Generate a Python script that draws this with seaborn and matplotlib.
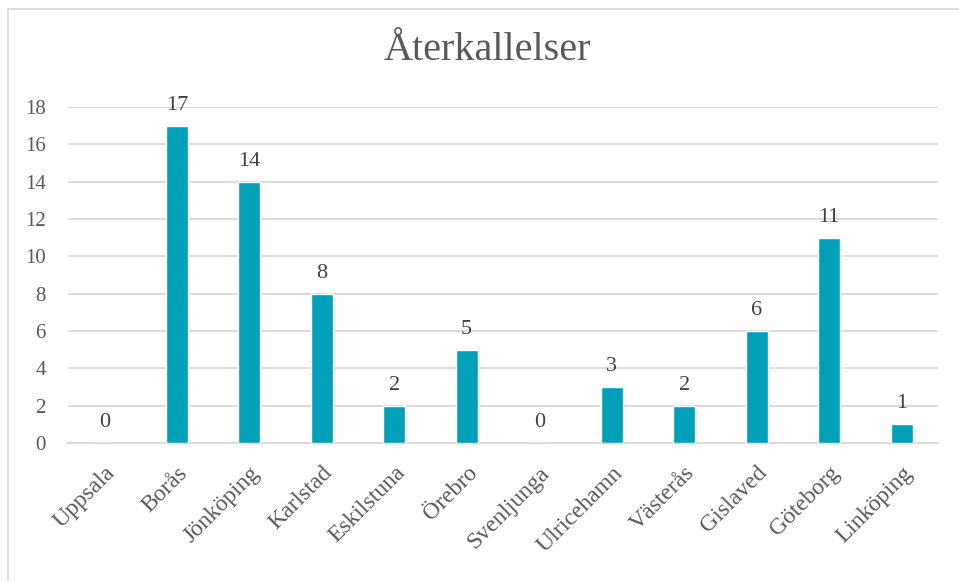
import matplotlib
matplotlib.use('Agg')
import matplotlib.pyplot as plt
import seaborn as sns
import pandas as pd
from matplotlib.patches import Rectangle

cities = ['Uppsala', 'Borås', 'Jönköping', 'Karlstad', 'Eskilstuna', 'Örebro',
          'Svenljunga', 'Ulricehamn', 'Västerås', 'Gislaved', 'Göteborg', 'Linköping']
recalls = [0, 17, 14, 8, 2, 5, 0, 3, 2, 6, 11, 1]
yticks = list(range(0, 20, 2))

sns.set_theme(style='white')
plt.rcParams['font.family'] = ['Liberation Serif', 'DejaVu Serif']

df = pd.DataFrame({'stad': cities, 'antal': recalls})

fig = plt.figure(figsize=(9.59, 5.81), dpi=100)
ax = fig.add_axes([68 / 959, 1 - 443 / 581, 870 / 959, 336 / 581])

sns.barplot(data=df, x='stad', y='antal', color='#00A0B9', width=0.31,
            saturation=1, ax=ax, zorder=3)

ax.set_ylim(0, 18)
ax.set_xlim(-0.5, len(cities) - 0.5)
ax.set_yticks(yticks)
ax.yaxis.grid(True, color='#D9D9D9', linewidth=1.3, zorder=0)
ax.set_axisbelow(True)
for s in ['top', 'right', 'left']:
    ax.spines[s].set_visible(False)
ax.spines['bottom'].set_color('#D9D9D9')
ax.spines['bottom'].set_linewidth(1.3)
ax.tick_params(axis='both', length=0, labelcolor='#595959')
ax.tick_params(axis='y', labelsize=15, pad=16)
ax.tick_params(axis='x', labelsize=17, pad=14)
ax.set_xlabel('')
ax.set_ylabel('')
plt.setp(ax.get_xticklabels(), rotation=45, ha='right', rotation_mode='anchor')

for i, v in enumerate(recalls):
    ax.annotate(str(v), (i, v), xytext=(0, 8), textcoords='offset points',
                ha='center', va='bottom', fontsize=16, color='#404040')

fig.text(487 / 959, 1 - 50 / 581, 'Återkallelser', fontsize=29,
         color='#595959', ha='center', va='center')

fig.patches.append(Rectangle((7.5 / 959, -0.1), 2, 1 - 8.5 / 581 + 0.1,
                             transform=fig.transFigure, fill=False,
                             edgecolor='#D9D9D9', linewidth=1.3))

fig.savefig('out.png', dpi=100)
